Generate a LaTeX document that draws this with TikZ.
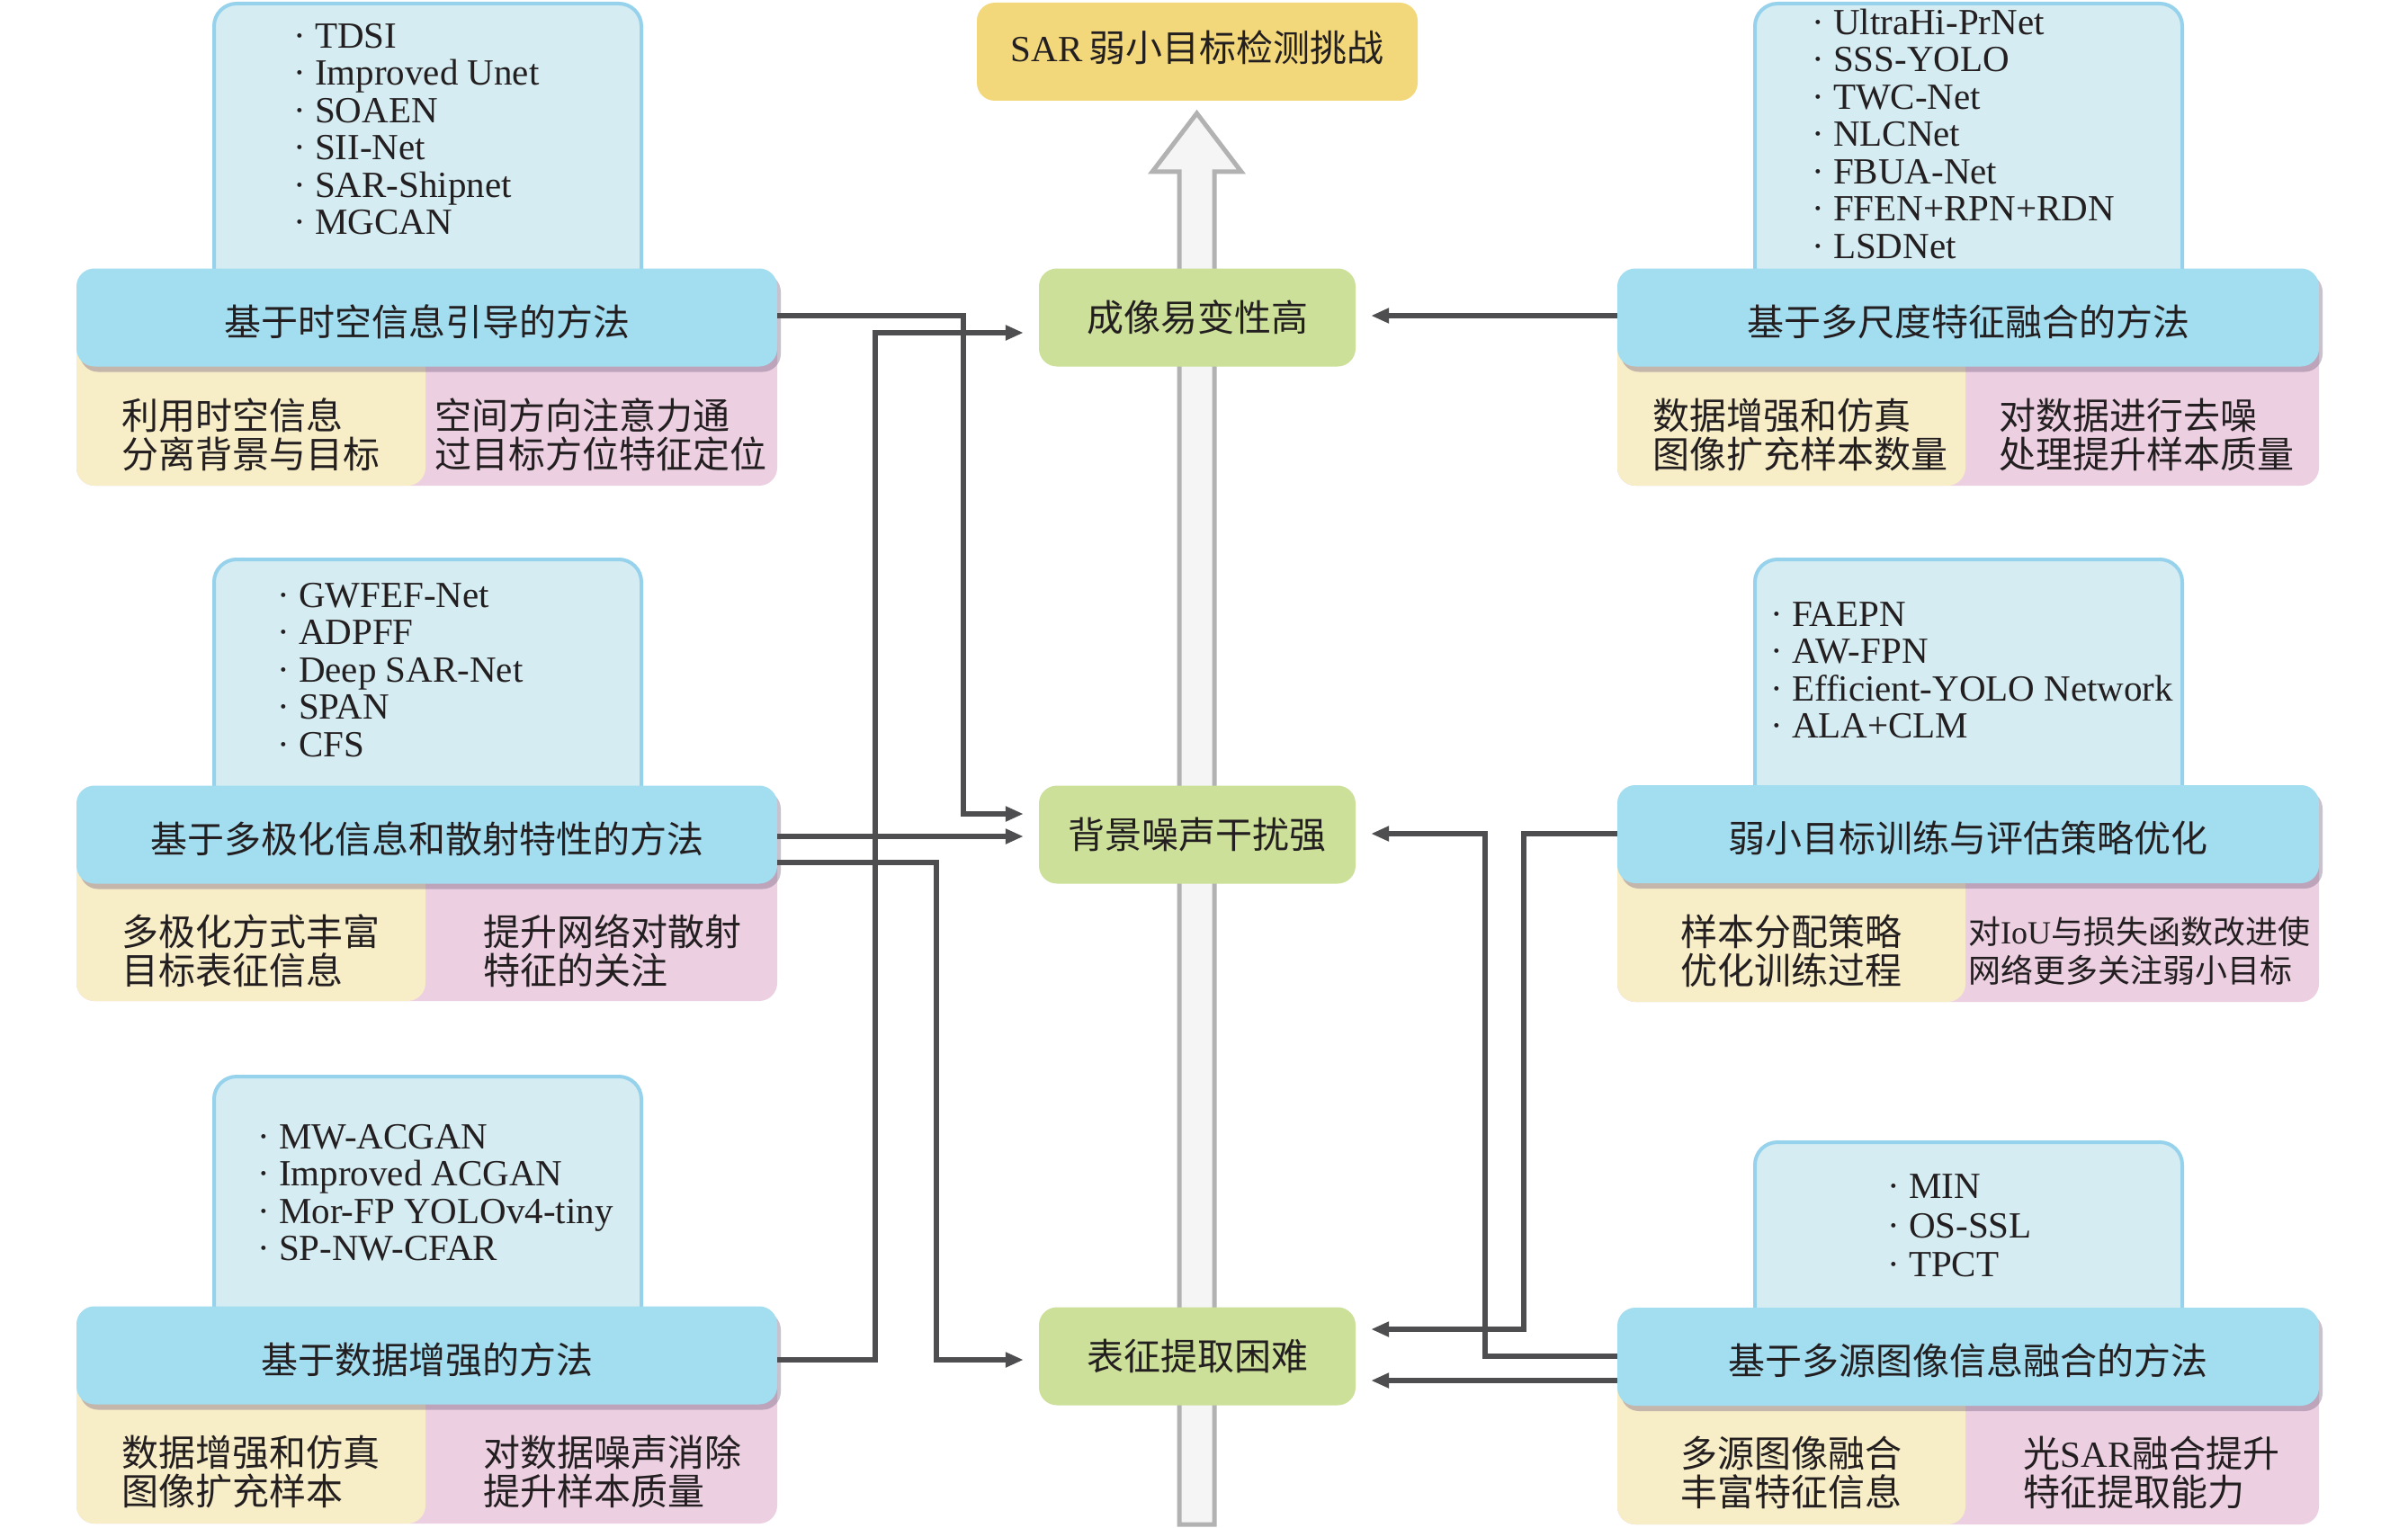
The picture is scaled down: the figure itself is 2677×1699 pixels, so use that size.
\documentclass[tikz,border=0pt]{standalone}
\usepackage{fontspec}
\setmainfont{Liberation Serif}
\newfontfamily\cjk{Noto Sans CJK SC}
\usetikzlibrary{arrows.meta,shadows}
\definecolor{hdrc}{RGB}{163,221,240}
\definecolor{listc}{RGB}{213,237,242}
\definecolor{listb}{RGB}{150,210,236}
\definecolor{yelc}{RGB}{247,237,199}
\definecolor{pinkc}{RGB}{236,208,226}
\definecolor{greenc}{RGB}{204,224,153}
\definecolor{goldc}{RGB}{242,216,122}
\definecolor{connc}{RGB}{78,78,80}
\definecolor{shdc}{RGB}{120,100,130}
\definecolor{txtc}{RGB}{35,31,32}
\begin{document}
\begin{tikzpicture}[x=1pt,y=-1pt,
  every node/.style={text=txtc},
  hdrbox/.style={fill=hdrc, rounded corners=20pt, minimum width=779pt, minimum height=109pt, inner sep=0pt,
     font=\cjk\fontsize{41}{43}\selectfont, text height=48pt, text depth=8pt,
     drop shadow={shadow xshift=4pt, shadow yshift=-6pt, opacity=0.4, fill=shdc}},
  greenbox/.style={fill=greenc, rounded corners=20pt, minimum width=352pt, minimum height=109pt, inner sep=0pt,
     font=\cjk\fontsize{41}{43}\selectfont},
  titlebox/.style={fill=goldc, rounded corners=20pt, minimum width=490pt, minimum height=109pt, inner sep=0pt,
     font=\fontsize{41}{43}\selectfont, text height=36pt, text depth=14pt},
  listbox/.style={fill=listc, draw=listb, line width=4pt, rounded corners=25pt},
  listtxt/.style={anchor=north west, inner sep=0pt, align=left, font=\fontsize{41}{41.5}\selectfont},
  subtxt/.style={inner sep=0pt, align=left, font=\cjk\fontsize{41}{43}\selectfont},
  conn/.style={draw=connc, line width=5.5pt, -{Triangle[length=20pt,width=16pt]}, shorten >=17pt}
]
\fill[white] (0,0) rectangle (2677,1699);
\useasboundingbox (0,0) rectangle (2677,1699);

% big hollow arrow
\draw[line width=5pt, draw=black!30, fill=black!4, line join=miter]
  (1311,1695) -- (1311,191) -- (1281,191) -- (1330.5,126) -- (1380,191) -- (1350,191) -- (1350,1695) -- cycle;

% ---------- list boxes ----------
\draw[listbox] (238,4) rectangle (713,360);
\draw[listbox] (238,622) rectangle (713,930);
\draw[listbox] (238,1197) rectangle (713,1500);
\draw[listbox] (1951,4) rectangle (2426,360);
\draw[listbox] (1951,622) rectangle (2426,930);
\draw[listbox] (1951,1270) rectangle (2426,1500);

\node[listtxt] (l1) at (326,24) {\strut· TDSI\\\strut· Improved Unet\\\strut· SOAEN\\\strut· SII-Net\\\strut· SAR-Shipnet\\\strut· MGCAN};
\node[listtxt] (l2) at (308,646) {\strut· GWFEF-Net\\\strut· ADPFF\\\strut· Deep SAR-Net\\\strut· SPAN\\\strut· CFS};
\node[listtxt] (l3) at (286,1248) {\strut· MW-ACGAN\\\strut· Improved ACGAN\\\strut· Mor-FP YOLOv4-tiny\\\strut· SP-NW-CFAR};
\node[listtxt] (r1) at (2014,9) {\strut· UltraHi-PrNet\\\strut· SSS-YOLO\\\strut· TWC-Net\\\strut· NLCNet\\\strut· FBUA-Net\\\strut· FFEN+RPN+RDN\\\strut· LSDNet};
\node[listtxt] (r2) at (1968,667) {\strut· FAEPN\\\strut· AW-FPN\\\strut· Efficient-YOLO Network\\\strut· ALA+CLM};
\node[listtxt, font=\fontsize{41}{43.5}\selectfont] (r3) at (2098,1302) {\strut· MIN\\\strut· OS-SSL\\\strut· TPCT};

% ---------- sub boxes ----------
\fill[pinkc, rounded corners=20pt] (85,360) rectangle (864,540);
\fill[yelc, rounded corners=20pt] (85,360) rectangle (473,540);
\fill[pinkc, rounded corners=20pt] (85,930) rectangle (864,1113);
\fill[yelc, rounded corners=20pt] (85,930) rectangle (473,1113);
\fill[pinkc, rounded corners=20pt] (85,1510) rectangle (864,1694);
\fill[yelc, rounded corners=20pt] (85,1510) rectangle (473,1694);
\fill[pinkc, rounded corners=20pt] (1798,360) rectangle (2578,540);
\fill[yelc, rounded corners=20pt] (1798,360) rectangle (2185,540);
\fill[pinkc, rounded corners=20pt] (1798,930) rectangle (2578,1114);
\fill[yelc, rounded corners=20pt] (1798,930) rectangle (2185,1114);
\fill[pinkc, rounded corners=20pt] (1798,1510) rectangle (2578,1695);
\fill[yelc, rounded corners=20pt] (1798,1510) rectangle (2185,1695);

\node[subtxt] (l1a) at (279,483) {利用时空信息\\分离背景与目标};
\node[subtxt] (l1b) at (668,483) {空间方向注意力通\\过目标方位特征定位};
\node[subtxt] (l2a) at (279,1057) {多极化方式丰富\\目标表征信息};
\node[subtxt] (l2b) at (681,1057) {提升网络对散射\\特征的关注};
\node[subtxt] (l3a) at (279,1636) {数据增强和仿真\\图像扩充样本};
\node[subtxt] (l3b) at (681,1636) {对数据噪声消除\\提升样本质量};
\node[subtxt] (r1a) at (2001,483) {数据增强和仿真\\图像扩充样本数量};
\node[subtxt] (r1b) at (2386,483) {对数据进行去噪\\处理提升样本质量};
\node[subtxt] (r2a) at (1991,1057) {样本分配策略\\优化训练过程};
\node[subtxt, font=\cjk\fontsize{36}{43}\selectfont] (r2b) at (2378,1057) {对{\rmfamily IoU}与损失函数改进使\\网络更多关注弱小目标};
\node[subtxt] (r3a) at (1991,1637) {多源图像融合\\丰富特征信息};
\node[subtxt] (r3b) at (2392,1637) {光{\rmfamily SAR}融合提升\\特征提取能力};

% ---------- headers ----------
\node[hdrbox] (L1) at (474.5,353) {基于时空信息引导的方法};
\node[hdrbox] (L2) at (474.5,928) {基于多极化信息和散射特性的方法};
\node[hdrbox] (L3) at (474.5,1507) {基于数据增强的方法};
\node[hdrbox, minimum width=780pt] (R1) at (2188,353) {基于多尺度特征融合的方法};
\node[hdrbox, minimum width=780pt] (R2) at (2188,927.5) {弱小目标训练与评估策略优化};
\node[hdrbox, minimum width=780pt] (R3) at (2188,1508.5) {基于多源图像信息融合的方法};

% ---------- centre ----------
\node[titlebox] (T) at (1331,57.5) {SAR\,{\cjk 弱小目标检测挑战}};
\node[greenbox] (G1) at (1331,353) {成像易变性高};
\node[greenbox] (G2) at (1331,928) {背景噪声干扰强};
\node[greenbox] (G3) at (1331,1508) {表征提取困难};

% ---------- connectors ----------
\draw[conn] ([yshift=2pt]L1.east) -- ++(207,0) |- ([yshift=23pt]G2.west);
\draw[conn] ([yshift=-5pt]L3.east) -- ++(109,0) |- ([yshift=-17pt]G1.west);
\draw[conn] ([yshift=-2pt]L2.east) -- ([yshift=-2pt]G2.west);
\draw[conn] ([yshift=-31pt]L2.east) -- ++(177,0) |- ([yshift=-4pt]G3.west);
\draw[conn] ([yshift=2pt]R1.west) -- ([yshift=2pt]G1.east);
\draw[conn] ([yshift=0.5pt]R2.west) -- ++(-104,0) |- ([yshift=30pt]G3.east);
\draw[conn] ([yshift=0.5pt]R3.west) -- ++(-147,0) |- ([yshift=1pt]G2.east);
\draw[conn] ([yshift=-26.5pt]R3.west) -- ([yshift=-27pt]G3.east);
\end{tikzpicture}
\end{document}
